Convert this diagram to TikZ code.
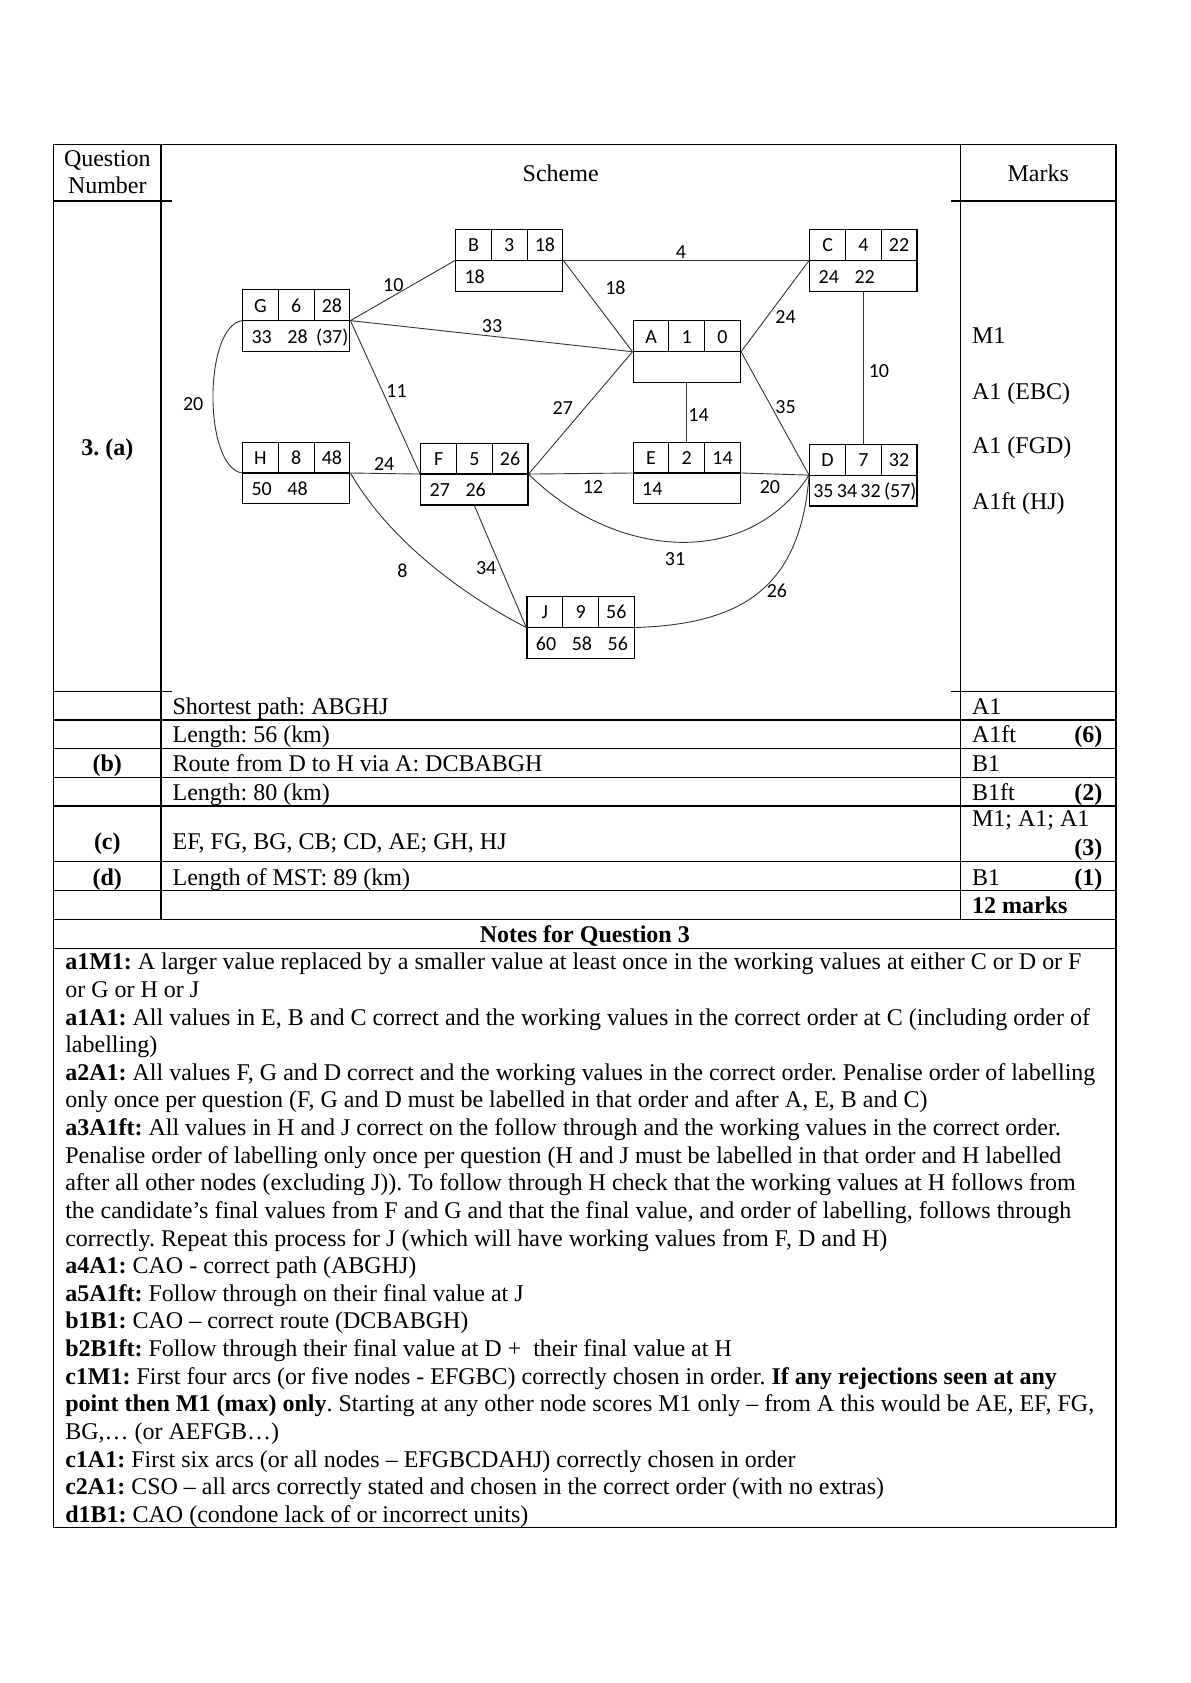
\documentclass[tikz,border=0pt]{standalone}
\usepackage{fontspec}
\setmainfont{Liberation Serif}
\newfontfamily\calib{Carlito}
\usetikzlibrary{calc}
\frenchspacing
\newcommand{\wgap}{\hspace{7.8pt}}

% one labelled vertex: name, left, top, letter, order, final value, working values
\newcommand{\vtxbox}[7]{%
  \node[vtx] (#1) at ({#2+50},{#3+28.75}) {};
  \draw[box] (#1.west) -- (#1.east);
  \draw[box] ({#2+33.3},#3) -- ({#2+33.3},{#3+28.75});
  \draw[box] ({#2+66.7},#3) -- ({#2+66.7},{#3+28.75});
  \node[num,anchor=base] (#1-l) at ({#2+16.7},{#3+20.8}) {#4};
  \node[num,anchor=base] (#1-o) at ({#2+50},{#3+20.8}) {#5};
  \node[num,anchor=base] (#1-f) at ({#2+83.3},{#3+20.8}) {#6};
  \node[num,anchor=base west] (#1-w) at ({#2+8},{#3+49.8}) {#7};
}

\begin{document}
\begin{tikzpicture}[x=0.53677pt,y=-0.53677pt,
  rule/.style={line width=0.6pt},
  box/.style={line width=0.6pt},
  vtx/.style={draw,line width=0.6pt,minimum width=53.68pt,minimum height=30.86pt,inner sep=0pt},
  road/.style={line width=0.45pt,black!80},
  num/.style={font=\calib\fontsize{10}{12}\selectfont,inner sep=0pt},
  txt/.style={font=\fontsize{12}{13.82}\selectfont,inner sep=0pt},
  btxt/.style={font=\fontsize{12}{13.82}\selectfont\bfseries,inner sep=0pt}]
  \useasboundingbox (0,0) rectangle (1109,1568.3);

  % table rules
  \draw[rule] (50,134.5) rectangle (1040,1423.7);
  \draw[rule] (150,134.5) -- (150,856.5);
  \draw[rule] (895,134.5) -- (895,856.5);
  \draw[rule] (50,187.3) -- (160,187.3) (886,187.3) -- (1040,187.3);
  \draw[rule] (50,644) -- (160,644) (886,644) -- (1040,644);
  \foreach \y in {671,697.5,724.5,751,803,830,856.5,884}
    \draw[rule] (50,\y) -- (1040,\y);

  % headings
  \node[txt,anchor=base] (qn1) at (100,154.7) {Question};
  \node[txt,anchor=base] (qn2) at (100,180.2) {Number};
  \node[txt,anchor=base] (sch) at (522.5,168.8) {Scheme};
  \node[txt,anchor=base] (mk) at (967.5,168.8) {Marks};
  \node[btxt,anchor=base] (qa) at (100,424) {3. (a)};

  % network
  \vtxbox{B}{424.5}{214}{B}{3}{18}{18}
  \vtxbox{C}{754.5}{214}{C}{4}{22}{24\wgap 22}
  \vtxbox{G}{226}{270}{G}{6}{28}{33\wgap 28\hspace{4.2pt}(37)}
  \vtxbox{A}{590}{299}{A}{1}{0}{}
  \vtxbox{H}{226}{412}{H}{8}{48}{50\wgap 48}
  \vtxbox{F}{392}{413}{F}{5}{26}{27\wgap 26}
  \vtxbox{E}{590}{412}{E}{2}{14}{14}
  \vtxbox{D}{754.5}{414}{D}{7}{32}{\kern-2.7pt 35\,34\,32\,(57)}
  \vtxbox{J}{491}{556}{J}{9}{56}{60\wgap 58\wgap 56}

  \draw[road] (G.east) -- (B.west);
  \draw[road] (G.east) -- (A.west);
  \draw[road] (G.east) -- (F.west);
  \draw[road] (G.west) .. controls +(-36,6) and +(-36,-6) .. (H.west);
  \draw[road] (B.east) -- (C.west);
  \draw[road] (B.east) -- (A.west);
  \draw[road] (A.east) -- (C.west);
  \draw[road] (C.south) -- (D.north);
  \draw[road] (A.south) -- (E.north);
  \draw[road] (A.east) -- (D.west);
  \draw[road] (A.west) -- (F.east);
  \draw[road] (H.east) -- (F.west);
  \draw[road] (F.east) -- (E.west);
  \draw[road] (E.east) -- (D.west);
  \draw[road] (F.east) .. controls +(77,77) and +(-59,91) .. (D.west);
  \draw[road] (H.east) .. controls +(35,61) and +(-62,-32) .. (J.west);
  \draw[road] (F.south) -- (J.west);
  \draw[road] (J.east) .. controls +(100,-3) and +(-8,105) .. (D.west);

  % arc weights
  \node[num] (w-gb) at (366.5,265.5) {10};
  \node[num] (w-ga) at (458.5,303.5) {33};
  \node[num] (w-gf) at (369.5,364) {11};
  \node[num] (w-gh) at (180,376.5) {20};
  \node[num] (w-bc) at (634.5,234.5) {4};
  \node[num] (w-ba) at (573.5,268) {18};
  \node[num] (w-ac) at (732,295.5) {24};
  \node[num] (w-cd) at (819,345.5) {10};
  \node[num] (w-ae) at (651,386.5) {14};
  \node[num] (w-ad) at (732,379) {35};
  \node[num] (w-af) at (524.5,380) {27};
  \node[num] (w-hf) at (358,432) {24};
  \node[num] (w-fe) at (552.5,453.5) {12};
  \node[num] (w-ed) at (717.5,453.5) {20};
  \node[num] (w-fd) at (629,521) {31};
  \node[num] (w-hj) at (375,532) {8};
  \node[num] (w-fj) at (453,529.5) {34};
  \node[num] (w-jd) at (724,551) {26};

  % marks for (a)
  \node[txt,anchor=base west] (m1) at (905.5,320) {M1};
  \node[txt,anchor=base west] (m2) at (905.5,372) {A1 (EBC)};
  \node[txt,anchor=base west] (m3) at (905.5,423) {A1 (FGD)};
  \node[txt,anchor=base west] (m4) at (905.5,474.5) {A1ft (HJ)};

  % answers
  \node[txt,anchor=base west] (r1) at (160.5,665.5) {Shortest path: ABGHJ};
  \node[txt,anchor=base west] (r2) at (160.5,692) {Length: 56 (km)};
  \node[txt,anchor=base west] (r3) at (160.5,719) {Route from D to H via A: DCBABGH};
  \node[txt,anchor=base west] (r4) at (160.5,745.5) {Length: 80 (km)};
  \node[txt,anchor=base west] (r5) at (160.5,792) {EF, FG, BG, CB; CD, AE; GH, HJ};
  \node[txt,anchor=base west] (r6) at (160.5,825) {Length of MST: 89 (km)};
  \node[btxt,anchor=base] (pb) at (100,719) {(b)};
  \node[btxt,anchor=base] (pc) at (100,792) {(c)};
  \node[btxt,anchor=base] (pd) at (100,825) {(d)};

  \node[txt,anchor=base west] (k1) at (905.5,665.5) {A1};
  \node[txt,anchor=base west] (k2) at (905.5,692) {A1ft};
  \node[btxt,anchor=base east] (t6) at (1027.5,692) {(6)};
  \node[txt,anchor=base west] (k3) at (905.5,719) {B1};
  \node[txt,anchor=base west] (k4) at (905.5,745.5) {B1ft};
  \node[btxt,anchor=base east] (t2) at (1027.5,745.5) {(2)};
  \node[txt,anchor=base west] (k5) at (905.5,770.4) {M1; A1; A1};
  \node[btxt,anchor=base east] (t3) at (1027.5,797) {(3)};
  \node[txt,anchor=base west] (k6) at (905.5,825) {B1};
  \node[btxt,anchor=base east] (t1) at (1027.5,825) {(1)};
  \node[btxt,anchor=base west] (tot) at (905.5,851) {12 marks};

  % notes
  \node[btxt,anchor=base] (nh) at (545,878) {Notes for Question 3};
  \node[txt,anchor=north west,align=left] (notes) at (60.5,887.8) {%
    \textbf{a1M1:} A larger value replaced by a smaller value at least once in the working values at either C or D or F\\
    or G or H or J\\
    \textbf{a1A1:} All values in E, B and C correct and the working values in the correct order at C (including order of\\
    labelling)\\
    \textbf{a2A1:} All values F, G and D correct and the working values in the correct order. Penalise order of labelling\\
    only once per question (F, G and D must be labelled in that order and after A, E, B and C)\\
    \textbf{a3A1ft:} All values in H and J correct on the follow through and the working values in the correct order.\\
    Penalise order of labelling only once per question (H and J must be labelled in that order and H labelled\\
    after all other nodes (excluding J)). To follow through H check that the working values at H follows from\\
    the candidate’s final values from F and G and that the final value, and order of labelling, follows through\\
    correctly. Repeat this process for J (which will have working values from F, D and H)\\
    \textbf{a4A1:} CAO - correct path (ABGHJ)\\
    \textbf{a5A1ft:} Follow through on their final value at J\\
    \textbf{b1B1:} CAO – correct route (DCBABGH)\\
    \textbf{b2B1ft:} Follow through their final value at D + \ their final value at H\\
    \textbf{c1M1:} First four arcs (or five nodes - EFGBC) correctly chosen in order. \textbf{If any rejections seen at any}\\
    \textbf{point then M1 (max) only}. Starting at any other node scores M1 only – from A this would be AE, EF, FG,\\
    BG,… (or AEFGB…)\\
    \textbf{c1A1:} First six arcs (or all nodes – EFGBCDAHJ) correctly chosen in order\\
    \textbf{c2A1:} CSO – all arcs correctly stated and chosen in the correct order (with no extras)\\
    \textbf{d1B1:} CAO (condone lack of or incorrect units)};
\end{tikzpicture}
\end{document}
